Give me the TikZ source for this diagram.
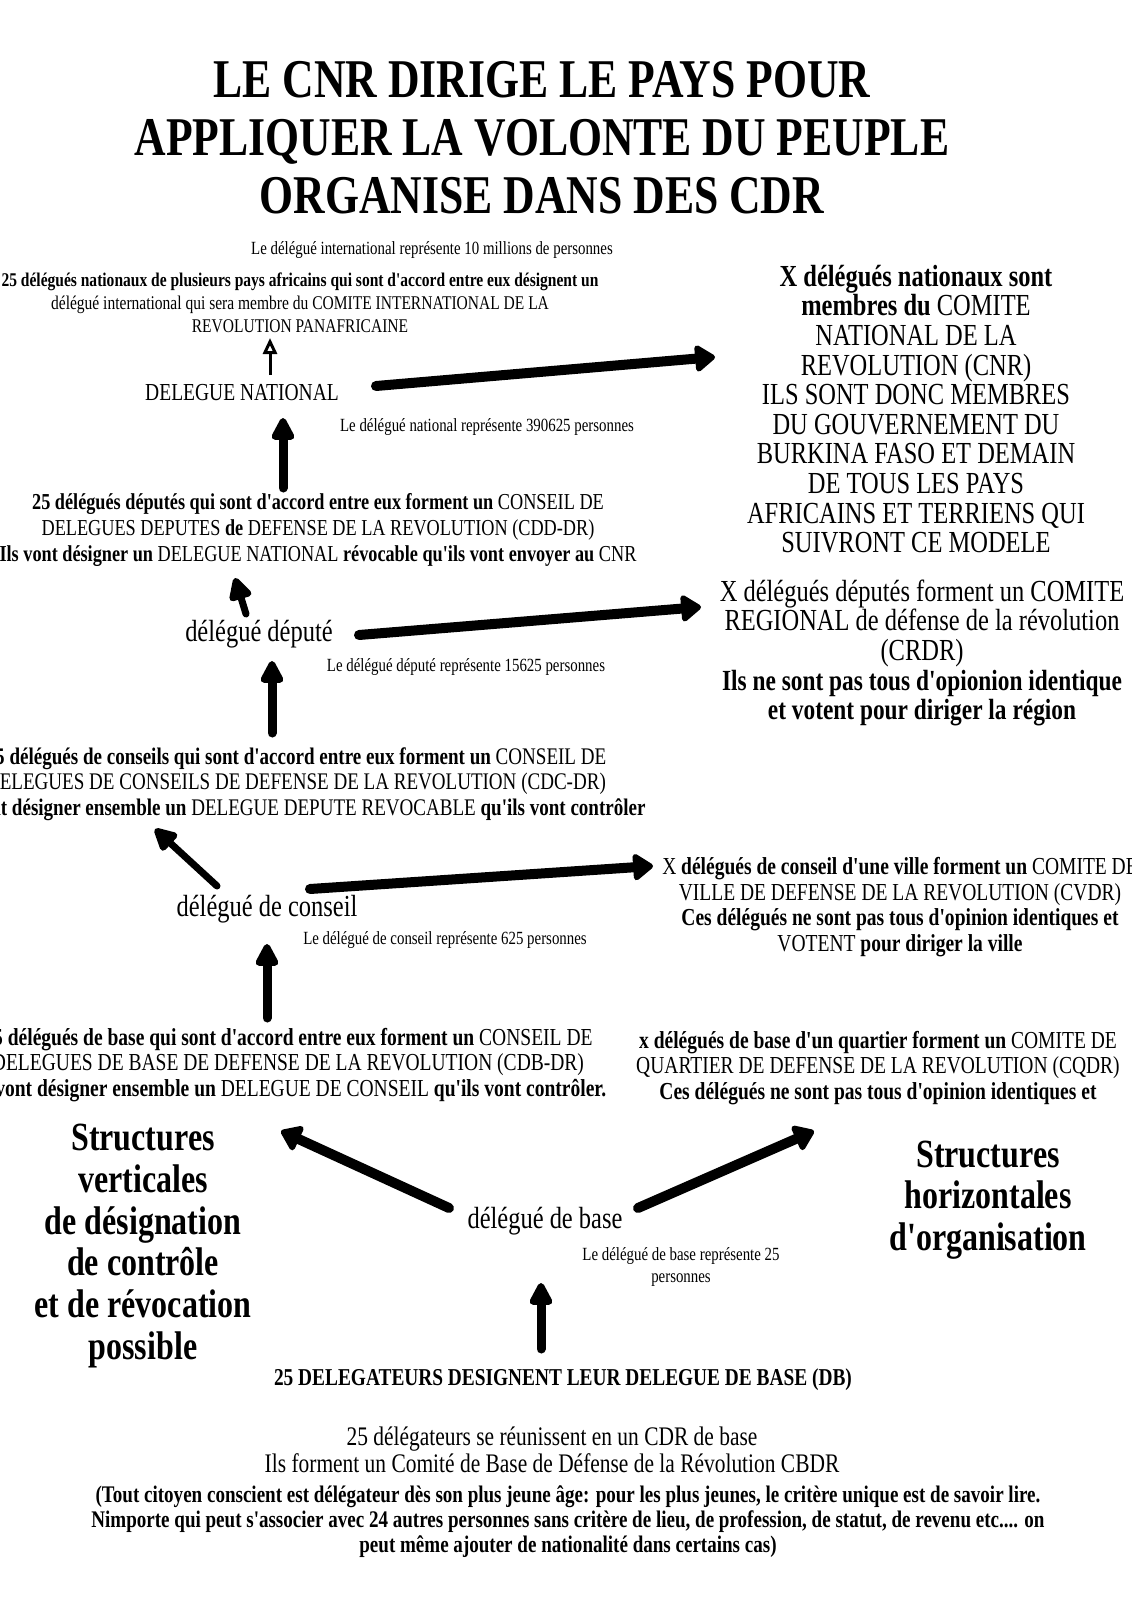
\documentclass[tikz,border=0pt]{standalone}
\usepackage{fontspec}
\setmainfont{Liberation Serif}[FakeStretch=0.8, Ligatures=TeXOff]
\usetikzlibrary{arrows.meta, positioning}

\begin{document}
\begin{tikzpicture}[
  x=0.5pt, y=-0.5pt,
  titre/.style={font=\fontsize{27.3}{29}\selectfont\bfseries, align=center},
  petit/.style={font=\fontsize{9.3}{11.2}\selectfont, align=center},
  moyen/.style={font=\fontsize{12.2}{12.8}\selectfont, align=center},
  grand/.style={font=\fontsize{15.3}{14.8}\selectfont, align=center},
  niveau/.style={font=\fontsize{15.3}{16}\selectfont},
  struct/.style={font=\fontsize{20}{20.9}\selectfont\bfseries, align=center},
  fleche/.style={line width=5pt, line cap=round, -{Triangle[round, length=11pt, width=15pt]}},
  monte/.style={line width=4.5pt, line cap=round, -{Triangle[round, length=13pt, width=12.5pt]}},
  creuse/.style={line width=1.5pt, -{Triangle[open, length=8pt, width=7pt]}}
]
\useasboundingbox[fill=white] (0,0) rectangle (1131,1600);

% Nodes
\node[titre] (titre) at (542,138) {LE CNR DIRIGE LE PAYS POUR\\APPLIQUER LA VOLONTE DU PEUPLE\\ORGANISE DANS DES CDR};

\node[petit] (intl) at (432,250) {Le délégué international représente 10 millions de personnes};
\node[petit, font=\fontsize{9.7}{11.4}\selectfont] (panaf) at (300,303) {\textbf{25 délégués nationaux de plusieurs pays africains qui sont d'accord entre eux désignent un}\\délégué international qui sera membre du COMITE INTERNATIONAL DE LA\\REVOLUTION PANAFRICAINE};
\node[moyen] (natl) at (242,393) {DELEGUE NATIONAL};
\node[petit] (natlpop) at (487,427) {Le délégué national représente 390625 personnes};
\node[grand] (cnr) at (916,409) {\textbf{X délégués nationaux sont}\\\textbf{membres du} COMITE\\NATIONAL DE LA\\REVOLUTION (CNR)\\ILS SONT DONC MEMBRES\\DU GOUVERNEMENT DU\\BURKINA FASO ET DEMAIN\\DE TOUS LES PAYS\\AFRICAINS ET TERRIENS QUI\\SUIVRONT CE MODELE};

\node[moyen, font=\fontsize{11.4}{12.8}\selectfont] (cdd) at (318,530) {\textbf{25 délégués députés qui sont d'accord entre eux forment un} CONSEIL DE\\DELEGUES DEPUTES \textbf{de} DEFENSE DE LA REVOLUTION (CDD-DR)\\\textbf{Ils vont désigner un} DELEGUE NATIONAL \textbf{révocable qu'ils vont envoyer au} CNR};
\node[niveau] (dep) at (259,634) {délégué député};
\node[petit] (deppop) at (466,667) {Le délégué député représente 15625 personnes};
\node[grand] (crdr) at (922,653) {X délégués députés forment un COMITE\\REGIONAL de défense de la révolution\\(CRDR)\\\textbf{\fontsize{14.6}{14.8}\selectfont Ils ne sont pas tous d'opionion identique}\\\textbf{\fontsize{14.6}{14.8}\selectfont et votent pour diriger la région}};

\node[moyen, font=\fontsize{11.9}{12.8}\selectfont] (cdc) at (296,784) {\textbf{25 délégués de conseils qui sont d'accord entre eux forment un} CONSEIL DE\\DELEGUES DE CONSEILS DE DEFENSE DE LA REVOLUTION (CDC-DR)\\\textbf{Ils vont désigner ensemble un} DELEGUE DEPUTE REVOCABLE \textbf{qu'ils vont contrôler}};
\node[niveau] (cons) at (267,909) {délégué de conseil};
\node[petit] (conspop) at (445,940) {Le délégué de conseil représente 625 personnes};
\node[moyen] (cvdr) at (900,907) {X \textbf{délégués de conseil d'une ville forment un} COMITE DE\\VILLE DE DEFENSE DE LA REVOLUTION (CVDR)\\\textbf{Ces délégués ne sont pas tous d'opinion identiques et}\\VOTENT \textbf{pour diriger la ville}};

\node[moyen] (cdb) at (288,1065) {\textbf{25 délégués de base qui sont d'accord entre eux forment un} CONSEIL DE\\DELEGUES DE BASE DE DEFENSE DE LA REVOLUTION (CDB-DR)\\\textbf{Ils vont désigner ensemble un} DELEGUE DE CONSEIL \textbf{qu'ils vont contrôler.}};
\node[moyen] (cqdr) at (878,1068) {\textbf{x délégués de base d'un quartier forment un} COMITE DE\\QUARTIER DE DEFENSE DE LA REVOLUTION (CQDR)\\\textbf{Ces délégués ne sont pas tous d'opinion identiques et}};

\node[struct] (vert) at (143,1246) {Structures\\verticales\\de désignation\\de contrôle\\et de révocation\\possible};
\node[niveau] (base) at (545,1221) {délégué de base};
\node[petit] (basepop) at (681,1267) {Le délégué de base représente 25\\personnes};
\node[struct] (horiz) at (988,1200) {Structures\\horizontales\\d'organisation};

\node[font=\fontsize{12.1}{13}\selectfont\bfseries] (db) at (563,1380) {25 DELEGATEURS DESIGNENT LEUR DELEGUE DE BASE (DB)};
\node[font=\fontsize{13.4}{13.3}\selectfont, align=center] (cbdr) at (552,1450) {25 délégateurs se réunissent en un CDR de base\\Ils forment un Comité de Base de Défense de la Révolution CBDR};
\node[font=\fontsize{11.9}{12.5}\selectfont\bfseries, align=center] (citoyen) at (568,1522) {(Tout citoyen conscient est délégateur dès son plus jeune âge: pour les plus jeunes, le critère unique est de savoir lire.\\Nimporte qui peut s'associer avec 24 autres personnes sans critère de lieu, de profession, de statut, de revenu etc.... on\\peut même ajouter de nationalité dans certains cas)};

% Arrow ends
\coordinate (natl-up) at (270,375);   \coordinate (panaf-in) at (270,338);
\coordinate (cdd-up) at (283,488);    \coordinate (natl-in) at (283,418);
\coordinate (natl-out) at (376,386);  \coordinate (cnr-in) at (715,357);
\coordinate (dep-up) at (246,614);    \coordinate (cdd-in) at (235,578);
\coordinate (cdc-up) at (272,733);    \coordinate (dep-in) at (272,661);
\coordinate (dep-out) at (359,635);   \coordinate (crdr-in) at (701,607);
\coordinate (cons-up) at (217,886);   \coordinate (cdc-in) at (155,829);
\coordinate (cons-out) at (310,889);  \coordinate (cvdr-in) at (653,866);
\coordinate (cdb-up) at (267,1018);   \coordinate (cons-in) at (267,944);
\coordinate (base-l) at (449,1208);   \coordinate (vert-in) at (281,1131);
\coordinate (base-r) at (638,1208);   \coordinate (horiz-in) at (814,1131);
\coordinate (db-up) at (541,1349);    \coordinate (base-in) at (541,1283);

% Pointers
\draw[creuse] (natl-up) -- (panaf-in);
\draw[monte] (cdd-up) -- (natl-in);
\draw[fleche] (natl-out) -- (cnr-in);
\draw[monte, line width=3.5pt] (dep-up) -- (cdd-in);
\draw[monte] (cdc-up) -- (dep-in);
\draw[fleche] (dep-out) -- (crdr-in);
\draw[monte, line width=3.5pt] (cons-up) -- (cdc-in);
\draw[fleche] (cons-out) -- (cvdr-in);
\draw[monte] (cdb-up) -- (cons-in);
\draw[fleche] (base-l) -- (vert-in);
\draw[fleche] (base-r) -- (horiz-in);
\draw[monte] (db-up) -- (base-in);
\end{tikzpicture}
\end{document}
